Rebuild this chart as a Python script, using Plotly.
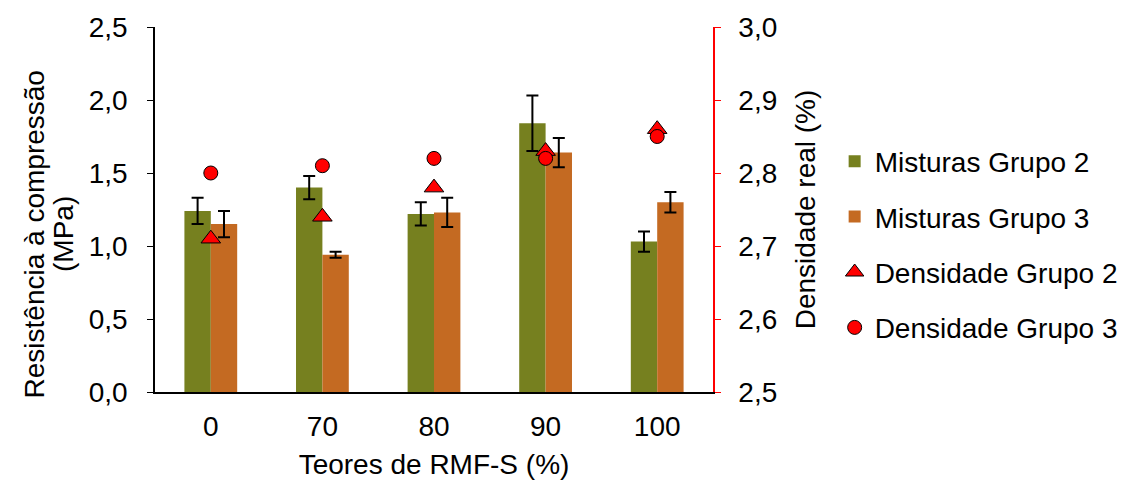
import plotly.graph_objects as go

categories = ["0", "70", "80", "90", "100"]
misturas_g2 = [1.24, 1.40, 1.22, 1.84, 1.03]
misturas_g2_err = [0.09, 0.08, 0.08, 0.19, 0.07]
misturas_g3 = [1.15, 0.94, 1.23, 1.64, 1.30]
misturas_g3_err = [0.09, 0.02, 0.10, 0.10, 0.07]
densidade_g2 = [2.71, 2.74, 2.78, 2.83, 2.86]
densidade_g3 = [2.80, 2.81, 2.82, 2.82, 2.85]
y_title_lines = ["Resistência à compressão", "(MPa)"]

FONT = "Liberation Sans, Arial, sans-serif"
FS = 28

fig = go.Figure()
fig.add_trace(go.Bar(
    x=categories, y=misturas_g2, name="Misturas Grupo 2",
    marker=dict(color="#76801F", line=dict(width=0)),
    error_y=dict(type="data", array=misturas_g2_err, color="black", thickness=2, width=6),
    legendgroup="a",
))
fig.add_trace(go.Bar(
    x=categories, y=misturas_g3, name="Misturas Grupo 3",
    marker=dict(color="#C46A22", line=dict(width=0)),
    error_y=dict(type="data", array=misturas_g3_err, color="black", thickness=2, width=6),
    legendgroup="b",
))
fig.add_trace(go.Scatter(
    x=categories, y=densidade_g2, name="Densidade Grupo 2", mode="markers",
    marker=dict(symbol="triangle-up", size=17, color="#FF0000", line=dict(color="black", width=1)),
    yaxis="y2", legendgroup="c",
))
fig.add_trace(go.Scatter(
    x=categories, y=densidade_g3, name="Densidade Grupo 3", mode="markers",
    marker=dict(symbol="circle", size=14, color="#FF0000", line=dict(color="black", width=1)),
    yaxis="y2", legendgroup="d",
))

# left axis title as two rotated lines (tighter line spacing)
for xp, line in zip([-0.216, -0.163], y_title_lines):
    fig.add_annotation(
        text=line, xref="paper", yref="paper", x=xp, y=0.433,
        xanchor="center", yanchor="middle", textangle=-90, showarrow=False,
        font=dict(family=FONT, size=FS, color="black"),
    )

fig.update_layout(
    width=1130, height=472,
    margin=dict(l=147, r=425, t=19, b=88),
    paper_bgcolor="white", plot_bgcolor="white",
    separators=",.",
    font=dict(family=FONT, size=FS, color="black"),
    barmode="group", bargap=0.527, bargroupgap=0,
    showlegend=True,
    legend=dict(x=1.218, y=0.70, xanchor="left", yanchor="top",
                font=dict(size=FS), tracegroupgap=16, traceorder="grouped",
                itemwidth=30, bgcolor="rgba(0,0,0,0)"),
    xaxis=dict(
        type="category", showline=True, linecolor="black", linewidth=2,
        ticks="", showgrid=False, automargin=False, ticklabelstandoff=8,
        title=dict(text="Teores de RMF-S (%)", standoff=14, font=dict(size=FS)),
        tickfont=dict(size=FS),
    ),
    yaxis=dict(
        range=[0, 2.5], dtick=0.5, tickformat=".1f",
        showline=True, linecolor="black", linewidth=1.5, automargin=False,
        ticks="outside", ticklen=6, tickcolor="black", showgrid=False, zeroline=False,
        ticklabelstandoff=14,
        tickfont=dict(size=FS),
    ),
    yaxis2=dict(
        range=[2.5, 3.0], dtick=0.1, tickformat=".1f", overlaying="y", side="right",
        showline=True, linecolor="#FF0000", linewidth=1.5, automargin=False,
        ticks="outside", ticklen=6, tickcolor="#FF0000", showgrid=False, zeroline=False,
        ticklabelstandoff=12,
        title=dict(text="Densidade real (%)", standoff=19, font=dict(size=FS)),
        tickfont=dict(size=FS),
    ),
)

fig.write_html("out.html")
